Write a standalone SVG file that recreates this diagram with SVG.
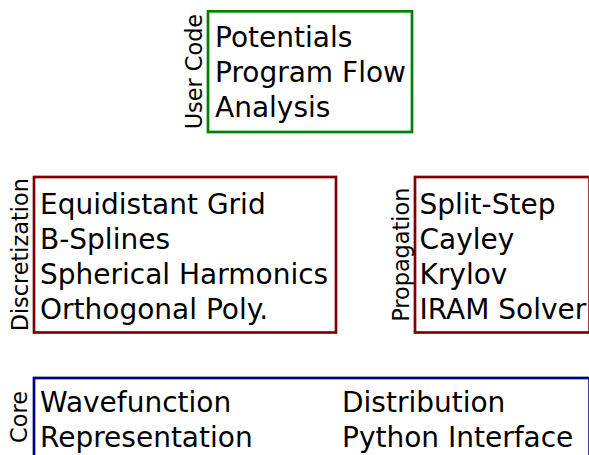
<svg xmlns="http://www.w3.org/2000/svg" width="589" height="455" viewBox="0 0 589 455">
<style>
.box{fill:none;stroke-width:2.7}
.item{font-family:"DejaVu Sans",sans-serif;font-size:28px;fill:#000}
.lbl{font-family:"DejaVu Sans",sans-serif;font-size:22.4px;fill:#000;text-anchor:middle}
</style>
<rect width="589" height="455" fill="#fff"/>
<g id="usercode">
<rect class="box" x="208" y="11.3" width="204" height="120.7" stroke="#008000"/>
<text class="lbl" transform="translate(202,71.6) rotate(-90)">User Code</text>
<text class="item" x="215" y="47">Potentials</text>
<text class="item" x="215" y="82">Program Flow</text>
<text class="item" x="215" y="117">Analysis</text>
</g>
<g id="discretization">
<rect class="box" x="34" y="177" width="302" height="155.5" stroke="#800000"/>
<text class="lbl" transform="translate(28,254.7) rotate(-90)">Discretization</text>
<text class="item" x="40" y="213.5">Equidistant Grid</text>
<text class="item" x="40" y="248.5">B-Splines</text>
<text class="item" x="40" y="283.5">Spherical Harmonics</text>
<text class="item" x="40" y="318.5">Orthogonal Poly.</text>
</g>
<g id="propagation">
<rect class="box" x="415" y="177" width="174.6" height="155.5" stroke="#800000"/>
<text class="lbl" transform="translate(408.5,254.7) rotate(-90)">Propagation</text>
<text class="item" x="419.5" y="213.5">Split-Step</text>
<text class="item" x="419.5" y="248.5">Cayley</text>
<text class="item" x="419.5" y="283.5">Krylov</text>
<text class="item" x="419.5" y="318.5">IRAM Solver</text>
</g>
<g id="core">
<rect class="box" x="34" y="378" width="555.6" height="90" stroke="#000080"/>
<text class="lbl" transform="translate(27,417) rotate(-90)">Core</text>
<text class="item" x="40" y="412">Wavefunction</text>
<text class="item" x="40" y="447">Representation</text>
<text class="item" x="342" y="412">Distribution</text>
<text class="item" x="342" y="447">Python Interface</text>
</g>
<g id="connectors"></g>
</svg>
